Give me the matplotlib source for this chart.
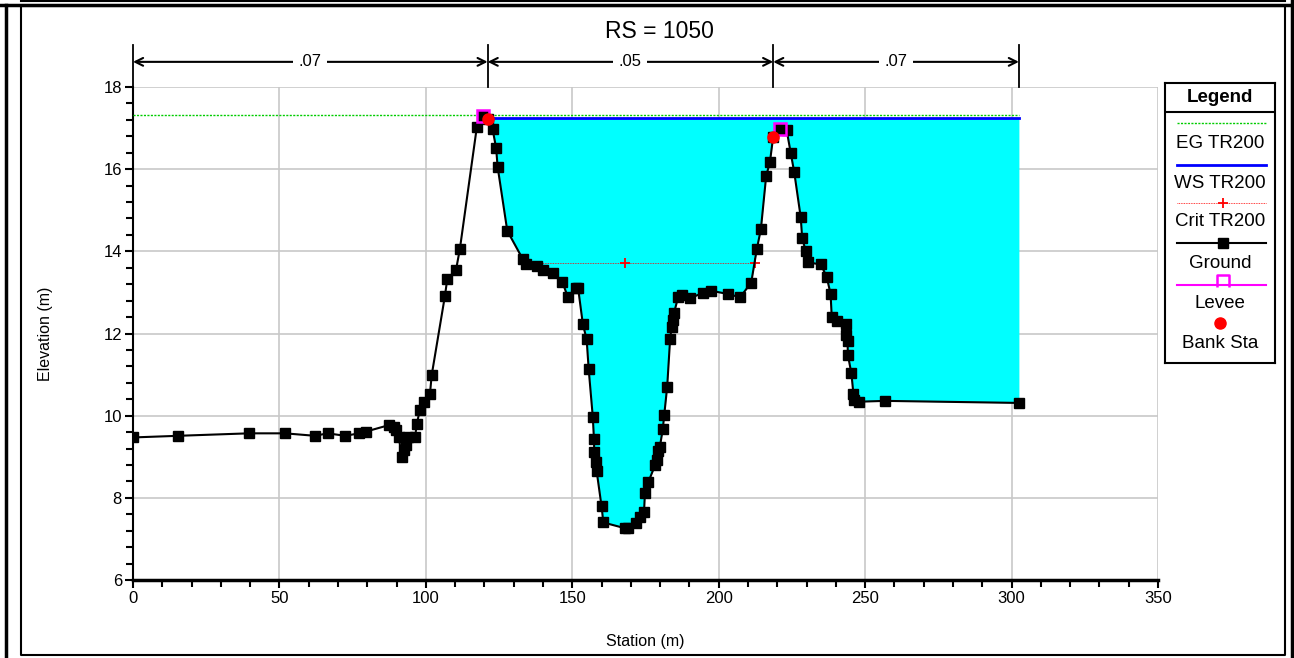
import matplotlib
matplotlib.use("Agg")
import matplotlib.pyplot as plt
import numpy as np
from matplotlib.lines import Line2D
from matplotlib.path import Path

plt.rcParams['font.family'] = ['Liberation Sans', 'DejaVu Sans']

# ground profile (station, elevation)
ground_x = [0.0, 15.5, 39.6, 51.9, 62.1, 66.5, 72.4, 77.3, 79.4, 87.4, 89.1, 89.7,
            90.8, 91.7, 92.5, 93.1, 94.0, 96.3, 96.9, 98.0, 99.4, 101.4, 102.0, 106.5,
            107.3, 110.3, 111.6, 117.4, 119.6, 121.1, 122.8, 124.0, 124.5, 127.8, 133.1,
            134.2, 137.8, 140.1, 143.3, 146.6, 148.4, 151.3, 152.0, 153.6, 154.9, 155.6,
            157.0, 157.4, 157.5, 158.1, 158.3, 160.0, 160.6, 168.0, 169.1, 171.8, 173.1,
            174.5, 174.8, 176.0, 178.3, 178.8, 179.4, 179.9, 180.9, 181.4, 182.4, 183.4,
            183.9, 184.5, 184.7, 186.2, 187.4, 190.2, 194.7, 197.4, 203.3, 207.3, 211.1,
            213.0, 214.4, 216.2, 217.5, 218.6, 220.9, 223.2, 224.6, 225.8, 228.0, 228.5,
            229.7, 230.6, 234.9, 236.9, 238.2, 238.6, 240.3, 243.5, 243.6, 244.0, 244.1,
            245.3, 246.0, 246.2, 248.0, 256.8, 302.5]
ground_y = [9.47, 9.51, 9.57, 9.57, 9.51, 9.57, 9.51, 9.57, 9.61, 9.77, 9.73, 9.65,
            9.47, 8.99, 9.16, 9.29, 9.47, 9.47, 9.80, 10.15, 10.34, 10.53, 10.99, 12.91,
            13.32, 13.55, 14.05, 17.02, 17.30, 17.22, 16.97, 16.51, 16.06, 14.50, 13.81,
            13.69, 13.64, 13.55, 13.47, 13.26, 12.90, 13.10, 13.10, 12.23, 11.86, 11.13,
            9.97, 9.43, 9.11, 8.88, 8.66, 7.79, 7.40, 7.26, 7.26, 7.38, 7.53,
            7.66, 8.11, 8.39, 8.80, 8.92, 9.15, 9.24, 9.67, 10.02, 10.70, 11.86,
            12.15, 12.33, 12.49, 12.90, 12.94, 12.86, 12.99, 13.04, 12.96, 12.88, 13.24,
            14.05, 14.54, 15.83, 16.18, 16.79, 16.97, 16.95, 16.39, 15.92, 14.83, 14.32,
            14.01, 13.73, 13.68, 13.37, 12.96, 12.39, 12.31, 12.23, 11.96, 11.82, 11.48,
            11.03, 10.53, 10.38, 10.34, 10.36, 10.31]

ws_elev = 17.24          # WS TR200
eg_elev = 17.32          # EG TR200
ws_x = [121.1, 302.5]
eg_x = [0.0, 302.5]
crit_x = [134.2, 168.0, 212.4]
crit_elev = 13.72
levee_x = [119.6, 220.9]
levee_y = [17.30, 16.97]
bank_x = [121.1, 218.6]
bank_y = [17.22, 16.79]
n_values = [".07", ".05", ".07"]
n_breaks = [0.0, 121.1, 218.6, 302.5]

EG_COLOR = '#00CC00'

fig = plt.figure(figsize=(12.94, 6.58), dpi=100)
ax = fig.add_axes([133 / 1294, 1 - 580 / 658, (1158 - 133) / 1294, (580 - 87) / 658])

gx = np.array(ground_x)
gy = np.array(ground_y)

# water fill in the main channel / right overbank
m = gx >= levee_x[0]
ax.fill_between(gx[m], gy[m], ws_elev, where=gy[m] <= ws_elev, interpolate=True,
                color='#00FFFF', linewidth=0, zorder=2)

ax.plot(eg_x, [eg_elev] * 2, color=EG_COLOR, lw=1.0, ls=(0, (1.5, 1)), zorder=3)
ax.plot(ws_x, [ws_elev] * 2, color='#0000FF', lw=2, zorder=3)
ax.plot(crit_x, [crit_elev] * len(crit_x), color='#FF0000', lw=0.6, ls=(0, (1, 1)),
        marker='+', ms=7, mew=1.3, zorder=4)
ax.plot(gx, gy, color='black', lw=1.5, marker='s', ms=6.8, zorder=5)
ax.plot(levee_x, levee_y, ls='none', marker='s', ms=9, mfc='none', mec='#FF00FF',
        mew=1.8, zorder=6)
ax.plot(bank_x, bank_y, ls='none', marker='o', ms=8, color='#FF0000', zorder=7)

ax.set_xlim(0, 350)
ax.set_ylim(6, 18)
ax.set_xticks(np.arange(0, 351, 50))
ax.set_xticks(np.arange(0, 351, 10), minor=True)
ax.set_yticks(np.arange(6, 18.1, 2))
ax.set_yticks(np.arange(6, 18.01, 0.4), minor=True)
ax.grid(True, which='major', color='#C8C8C8', lw=1.2, zorder=0)
ax.set_axisbelow(True)
for s in ['top', 'right']:
    ax.spines[s].set_visible(False)
ax.spines['left'].set_linewidth(1.5)
ax.spines['bottom'].set_linewidth(2.5)
ax.tick_params(which='major', direction='out', length=6, width=1.5, labelsize=12, pad=2)
ax.tick_params(which='minor', direction='out', length=5, width=1.5)
ax.set_xlabel('Station (m)', fontsize=11.5, labelpad=20)
ax.set_ylabel('Elevation (m)', fontsize=11.5, labelpad=36)

# n-value arrows above the plot
tr = ax.get_xaxis_transform()
for xb in n_breaks:
    ax.plot([xb, xb], [1.0, 1.085], transform=tr, color='black', lw=1.3, clip_on=False)
for i, lab in enumerate(n_values):
    x0, x1 = n_breaks[i], n_breaks[i + 1]
    ax.annotate('', xy=(x0, 1.051), xytext=(x1, 1.051), xycoords=tr, textcoords=tr,
                arrowprops=dict(arrowstyle='<->', color='black', lw=1.5,
                                shrinkA=0, shrinkB=0, mutation_scale=14))
    ax.text((x0 + x1) / 2, 1.051, lab, transform=tr, ha='center', va='center', fontsize=12,
            bbox=dict(facecolor='white', edgecolor='none', pad=4))

fig.text(659 / 1294, 1 - 32 / 658, 'RS = 1050', ha='center', va='center', fontsize=16.5)

# legend box
lg = fig.add_axes([1165 / 1294, 1 - 363 / 658, 110 / 1294, 280 / 658])
lg.set_xlim(0, 110)
lg.set_ylim(363, 83)
lg.set_xticks([])
lg.set_yticks([])
for s in lg.spines.values():
    s.set_linewidth(1.5)
lg.axhline(112, color='black', lw=1.5)
fs = 13.5
lg.text(55, 97, 'Legend', ha='center', va='center', fontsize=13.5, fontweight='bold')
lg.plot([12, 101], [123, 123], color=EG_COLOR, lw=1.0, ls=(0, (1.5, 1)))
lg.text(55, 143, 'EG TR200', ha='center', va='center', fontsize=fs)
lg.plot([12, 101], [165, 165], color='#0000FF', lw=2)
lg.text(55, 183, 'WS TR200', ha='center', va='center', fontsize=fs)
lg.plot([12, 101], [203, 203], color='#FF0000', lw=0.6, ls=(0, (1, 1)))
lg.plot([58], [203], marker='+', color='#FF0000', ms=7, mew=1.3)
lg.text(55, 222, 'Crit TR200', ha='center', va='center', fontsize=fs)
lg.plot([12, 101], [243, 243], color='black', lw=1.5)
lg.plot([58], [243], marker='s', color='black', ms=6.8)
lg.text(55, 263, 'Ground', ha='center', va='center', fontsize=fs)
lg.plot([12, 101], [285, 285], color='#FF00FF', lw=1.5)
levee_mark = Path([(-1, -1), (-1, 1), (1, 1), (1, -1)])
lg.plot([58], [281], marker=levee_mark, ms=8, mfc='none', mec='#FF00FF', mew=1.8)
lg.text(55, 303, 'Levee', ha='center', va='center', fontsize=fs)
lg.plot([55], [323], marker='o', color='#FF0000', ms=8)
lg.text(55, 343, 'Bank Sta', ha='center', va='center', fontsize=fs)

# outer frames
W, H = 1294, 658
def fl(xs, ys, lw):
    fig.add_artist(Line2D([x / W for x in xs], [1 - y / H for y in ys], color='black',
                          lw=lw, transform=fig.transFigure))
fl([21, 1285, 1285, 21, 21], [6, 6, 655, 655, 6], 1.5)
fl([0, W], [5, 5], 2.5)
fl([21, 1285], [1, 1], 1.5)
fl([6, 6], [5, H], 2.5)
fl([1292, 1292], [0, H], 2.5)

fig.savefig('out.png', dpi=100)
